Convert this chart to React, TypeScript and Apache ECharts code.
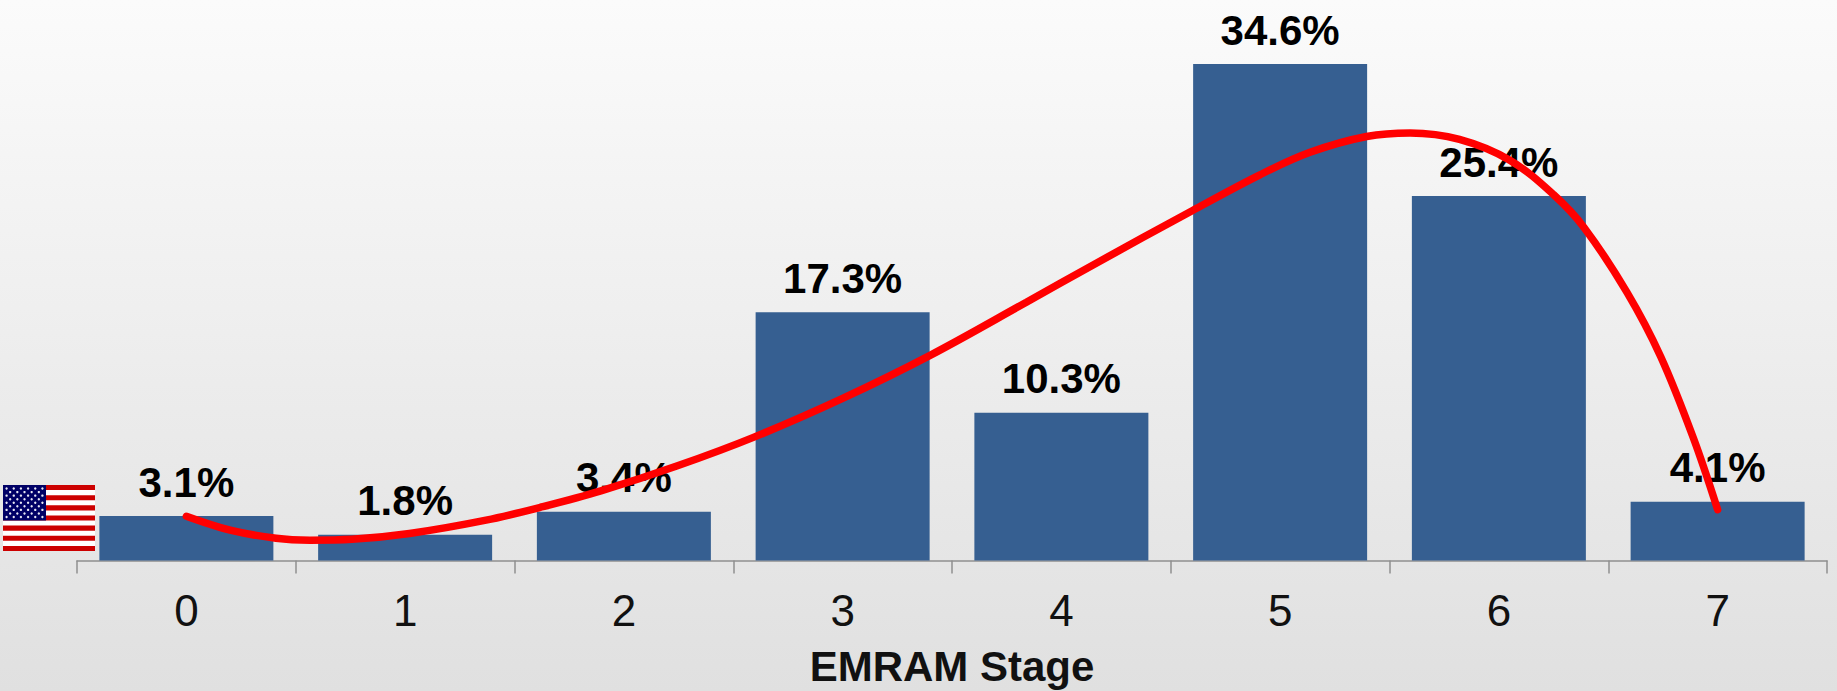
import React, { useEffect, useRef } from "react";
import * as echarts from "echarts";

const stages = ["0", "1", "2", "3", "4", "5", "6", "7"];
const shares = [3.1, 1.8, 3.4, 17.3, 10.3, 34.6, 25.4, 4.1];
const trendStage = [0, 0.2, 0.41, 0.565, 0.757, 1.02, 1.37, 1.63, 1.895, 2.245, 2.595, 3.0, 3.4, 3.84, 4.145, 4.6, 4.91, 5.137, 5.395, 5.594, 5.82, 6.05, 6.25, 6.39, 6.585, 6.74, 6.89, 7.0];
const trendShare = [3.08, 2.11, 1.55, 1.42, 1.48, 1.88, 2.81, 3.75, 4.85, 6.6, 8.6, 11.3, 14.3, 18.0, 20.6, 24.4, 26.9, 28.45, 29.55, 29.8, 29.35, 27.9, 25.5, 23.2, 18.7, 14.2, 8.5, 3.55];

const FONT = "'Liberation Sans', Arial, sans-serif";

// US flag built from plain shapes: 13 stripes, the canton and 50 stars.
function flagElements() {
  const x0 = 3, y0 = 485, w = 92, h = 66;
  const stripeH = h / 13;
  const cantonW = 43, cantonH = stripeH * 7;
  const els: any[] = [{ type: "rect", shape: { x: x0, y: y0, width: w, height: h }, style: { fill: "#ffffff" } }];
  for (let i = 0; i < 13; i += 2) {
    els.push({ type: "rect", shape: { x: x0, y: y0 + i * stripeH, width: w, height: stripeH }, style: { fill: "#cc0000" } });
  }
  els.push({ type: "rect", shape: { x: x0, y: y0, width: cantonW, height: cantonH }, style: { fill: "#000066" } });
  for (let r = 0; r < 9; r++) {
    const n = r % 2 === 0 ? 6 : 5;
    for (let c = 0; c < n; c++) {
      const cx = x0 + cantonW * ((r % 2 === 0 ? 1 : 2) + c * 2) / 12;
      const cy = y0 + cantonH * (r + 1) / 10;
      els.push({ type: "circle", shape: { cx, cy, r: 1.2 }, style: { fill: "#e8e8f4" } });
    }
  }
  return els;
}

export default function App() {
  const ref = useRef<HTMLDivElement>(null);
  useEffect(() => {
    const chart = echarts.init(ref.current!, undefined, { renderer: "svg" });
    chart.setOption({
      animation: false,
      backgroundColor: {
        type: "linear", x: 0, y: 0, x2: 0, y2: 1,
        colorStops: [{ offset: 0, color: "#fbfbfb" }, { offset: 1, color: "#e0e0e0" }],
      },
      grid: { left: 77, right: 10, top: 44, bottom: 130.5, outerBoundsMode: "none" },
      xAxis: [
        {
          type: "category",
          data: stages,
          axisLine: { lineStyle: { color: "#8f8f8f", width: 1.5 } },
          axisTick: { show: true, length: 13, alignWithLabel: false, lineStyle: { color: "#8f8f8f", width: 1.5 } },
          axisLabel: { fontFamily: FONT, fontSize: 44, color: "#111111", margin: 28 },
          name: "EMRAM Stage",
          nameLocation: "middle",
          nameGap: 85,
          nameTextStyle: { fontFamily: FONT, fontSize: 42, fontWeight: "bold", color: "#111111" },
        },
        { type: "value", min: -0.5, max: 7.5, show: false },
      ],
      yAxis: { type: "value", min: 0, max: 36, show: false },
      series: [
        {
          type: "bar",
          data: shares,
          barWidth: 174,
          z: 2,
          itemStyle: { color: "#365f91" },
          label: {
            show: true,
            position: "top",
            distance: 13,
            formatter: (p: any) => `${p.value}%`,
            fontFamily: FONT,
            fontSize: 42,
            fontWeight: "bold",
            color: "#000000",
          },
        },
        {
          type: "line",
          xAxisIndex: 1,
          data: trendStage.map((s, i) => [s, trendShare[i]]),
          smooth: 0.35,
          showSymbol: false,
          z: 5,
          lineStyle: { color: "#ff0000", width: 7.5, cap: "round" },
        },
      ],
      graphic: { elements: [{ type: "group", children: flagElements() }] },
    });
    return () => chart.dispose();
  }, []);
  return <div ref={ref} style={{ position: "absolute", left: 0, top: 0, width: 1837, height: 691 }} />;
}
